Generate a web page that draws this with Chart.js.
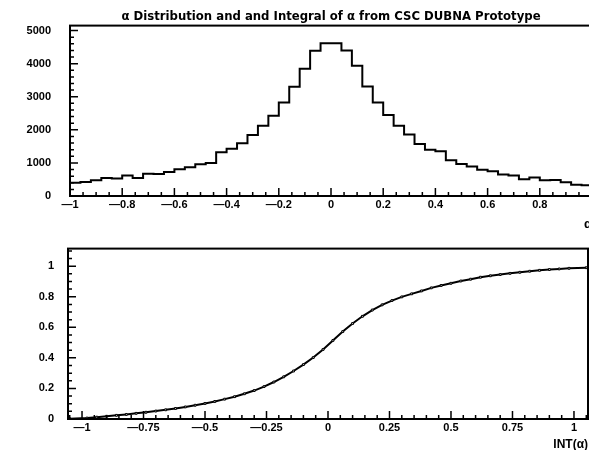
<!DOCTYPE html>
<html>
<head>
<meta charset="utf-8">
<script src="https://cdn.jsdelivr.net/npm/chart.js@4"></script>
<style>
html, body { margin: 0; padding: 0; background: #fff; overflow: hidden; }
#wrap { position: relative; width: 589px; height: 450px; overflow: hidden; background: #fff; }
canvas { position: absolute; left: 0; }
#alphaChart { top: 0; }
#integralChart { top: 228px; }
</style>
</head>
<body>
<div id="wrap">
<canvas id="alphaChart" width="600" height="232"></canvas>
<canvas id="integralChart" width="600" height="224"></canvas>
</div>
<script>
// alpha histogram, 50 bins of 0.04 from -1 to 1
let binStart = -1;
let binWidth = 0.04;
let alphaCounts = [
    400, 420, 476, 545, 527, 618, 545, 675, 664, 723,
    812, 872, 960, 1000, 1324, 1425, 1594, 1844, 2125, 2425,
    2827, 3305, 3844, 4393, 4620, 4620, 4401, 3934, 3309, 2824,
    2449, 2125, 1857, 1574, 1396, 1350, 1080, 967, 893, 795,
    747, 649, 622, 506, 560, 479, 482, 417, 339, 324
];

// integral of alpha at the bin centres
let integralValues = [
    0.006, 0.012, 0.018, 0.024, 0.030, 0.037, 0.044, 0.052, 0.060, 0.069,
    0.079, 0.090, 0.102, 0.115, 0.130, 0.146, 0.165, 0.186, 0.212, 0.242,
    0.276, 0.314, 0.356, 0.402, 0.455, 0.514, 0.572, 0.625, 0.672, 0.713,
    0.747, 0.775, 0.799, 0.819, 0.838, 0.858, 0.874, 0.888, 0.903, 0.915,
    0.928, 0.937, 0.945, 0.953, 0.960, 0.967, 0.973, 0.978, 0.982, 0.986
];
// integral where it meets the left and right frame
let integralEndX = [-1.05, 1.05];
let integralEndY = [0.002, 0.99];

// axis labels
let countTicks = [0, 1000, 2000, 3000, 4000, 5000];
let alphaTicks = [-1, -0.8, -0.6, -0.4, -0.2, 0, 0.2, 0.4, 0.6, 0.8];
let intXTicks = [-1, -0.75, -0.5, -0.25, 0, 0.25, 0.5, 0.75, 1];
let intYTicks = [0, 0.2, 0.4, 0.6, 0.8, 1];

let fontFamily = "'Liberation Sans', Arial, sans-serif";
let titleFamily = "'DejaVu Sans', sans-serif";

function tickText(value)
{
    let s = String(Number(value.toFixed(2)));
    return s.replace("-", "\u2014");
}

function fixedTicks(values)
{
    return scale => {
        scale.ticks = values.map(v => ({ value: v }));
    };
}

// walk minor tick positions, flag the ones that land on a major step
function eachTick(scale, major, minor, fn)
{
    let k0 = Math.ceil(scale.min / minor - 1e-6);
    let k1 = Math.floor(scale.max / minor + 1e-6);
    for (let k = k0; k <= k1; k++) {
        let v = k * minor;
        let r = v / major;
        let isMajor = Math.abs(r - Math.round(r)) < 1e-6;
        fn(scale.getPixelForValue(v), isMajor);
    }
}

// frame box plus ticks pointing into the plot
const frameTicks = {
    id: "frameTicks",
    afterDatasetsDraw(chart, args, opts)
    {
        let ctx = chart.ctx;
        let a = chart.chartArea;
        ctx.save();
        ctx.strokeStyle = "#000";
        ctx.lineWidth = 2;
        ctx.strokeRect(a.left, a.top, a.right - a.left, a.bottom - a.top);

        ctx.lineWidth = 1.5;
        ctx.beginPath();
        eachTick(chart.scales.x, opts.xMajor, opts.xMinor, (px, isMajor) => {
            let len = isMajor ? 8 : 4;
            ctx.moveTo(px, a.bottom);
            ctx.lineTo(px, a.bottom - len);
        });
        eachTick(chart.scales.y, opts.yMajor, opts.yMinor, (py, isMajor) => {
            let len = isMajor ? 8 : 4;
            ctx.moveTo(a.left, py);
            ctx.lineTo(a.left + len, py);
        });
        ctx.stroke();
        ctx.restore();
    }
};

function buildHistogramPoints()
{
    let points = [];
    alphaCounts.forEach((count, i) => {
        points.push({ x: binStart + i * binWidth, y: count });
    });
    // close the last bin at its upper edge
    points.push({
        x: binStart + alphaCounts.length * binWidth,
        y: alphaCounts[alphaCounts.length - 1]
    });
    return points;
}

function buildIntegralPoints()
{
    let points = [{ x: integralEndX[0], y: integralEndY[0] }];
    integralValues.forEach((v, i) => {
        points.push({ x: binStart + (i + 0.5) * binWidth, y: v });
    });
    points.push({ x: integralEndX[1], y: integralEndY[1] });
    return points;
}

function createAlphaChart()
{
    new Chart(
        document.getElementById("alphaChart"),
        {
            type: "line",
            data: {
                datasets: [{
                    data: buildHistogramPoints(),
                    stepped: "before",
                    borderColor: "#000",
                    borderWidth: 2,
                    pointRadius: 0,
                    fill: false
                }]
            },
            options: {
                responsive: false,
                animation: false,
                devicePixelRatio: 1,
                layout: { padding: { left: 0, right: 8, top: 0, bottom: 0 } },
                plugins: {
                    legend: { display: false },
                    tooltip: { enabled: false },
                    title: {
                        display: true,
                        fullSize: false,
                        text: "\u03b1 Distribution and and Integral of \u03b1 from CSC DUBNA Prototype",
                        color: "#000",
                        font: { family: titleFamily, size: 11.7, weight: "bold" },
                        padding: { top: 6, bottom: 2 }
                    },
                    frameTicks: { xMajor: 0.2, xMinor: 0.05, yMajor: 1000, yMinor: 200 }
                },
                scales: {
                    x: {
                        type: "linear",
                        min: -1,
                        max: 1,
                        grid: { display: false, drawTicks: false },
                        border: { display: false },
                        afterBuildTicks: fixedTicks(alphaTicks),
                        ticks: {
                            autoSkip: false,
                            maxRotation: 0,
                            padding: 2,
                            color: "#000",
                            font: { family: fontFamily, size: 11, weight: "bold" },
                            callback: v => tickText(v)
                        },
                        title: {
                            display: true,
                            text: "\u03b1",
                            align: "end",
                            color: "#000",
                            font: { family: fontFamily, size: 13, weight: "bold" },
                            padding: { top: 0, bottom: 0 }
                        },
                        afterFit: s => { s.height = 36; }
                    },
                    y: {
                        min: 0,
                        max: 5150,
                        grid: { display: false, drawTicks: false },
                        border: { display: false },
                        afterBuildTicks: fixedTicks(countTicks),
                        ticks: {
                            autoSkip: false,
                            padding: 19,
                            color: "#000",
                            font: { family: fontFamily, size: 11, weight: "bold" },
                            callback: v => String(v)
                        },
                        afterFit: s => { s.width = 70; }
                    }
                }
            },
            plugins: [frameTicks]
        }
    );
}

function createIntegralChart()
{
    new Chart(
        document.getElementById("integralChart"),
        {
            type: "line",
            data: {
                datasets: [{
                    data: buildIntegralPoints(),
                    borderColor: "#000",
                    borderWidth: 2,
                    tension: 0,
                    pointRadius: 1.3,
                    pointStyle: "rect",
                    pointBackgroundColor: "#fff",
                    pointBorderColor: "#000",
                    pointBorderWidth: 1,
                    fill: false
                }]
            },
            options: {
                responsive: false,
                animation: false,
                devicePixelRatio: 1,
                layout: { padding: { left: 0, right: 12, top: 17, bottom: 0 } },
                plugins: {
                    legend: { display: false },
                    tooltip: { enabled: false },
                    frameTicks: { xMajor: 0.25, xMinor: 0.05, yMajor: 0.2, yMinor: 0.05 }
                },
                scales: {
                    x: {
                        type: "linear",
                        min: -1.057,
                        max: 1.057,
                        grid: { display: false, drawTicks: false },
                        border: { display: false },
                        afterBuildTicks: fixedTicks(intXTicks),
                        ticks: {
                            autoSkip: false,
                            maxRotation: 0,
                            padding: 2,
                            color: "#000",
                            font: { family: fontFamily, size: 11, weight: "bold" },
                            callback: v => tickText(v)
                        },
                        title: {
                            display: true,
                            text: "INT(\u03b1)",
                            align: "end",
                            color: "#000",
                            font: { family: fontFamily, size: 12, weight: "bold" },
                            padding: { top: 0, bottom: 0 }
                        },
                        afterFit: s => { s.height = 33; }
                    },
                    y: {
                        min: 0,
                        max: 1.115,
                        grid: { display: false, drawTicks: false },
                        border: { display: false },
                        afterBuildTicks: fixedTicks(intYTicks),
                        ticks: {
                            autoSkip: false,
                            padding: 14,
                            color: "#000",
                            font: { family: fontFamily, size: 11, weight: "bold" },
                            callback: v => tickText(v)
                        },
                        afterFit: s => { s.width = 68; }
                    }
                }
            },
            plugins: [frameTicks]
        }
    );
}

createAlphaChart();
createIntegralChart();
</script>
</body>
</html>
